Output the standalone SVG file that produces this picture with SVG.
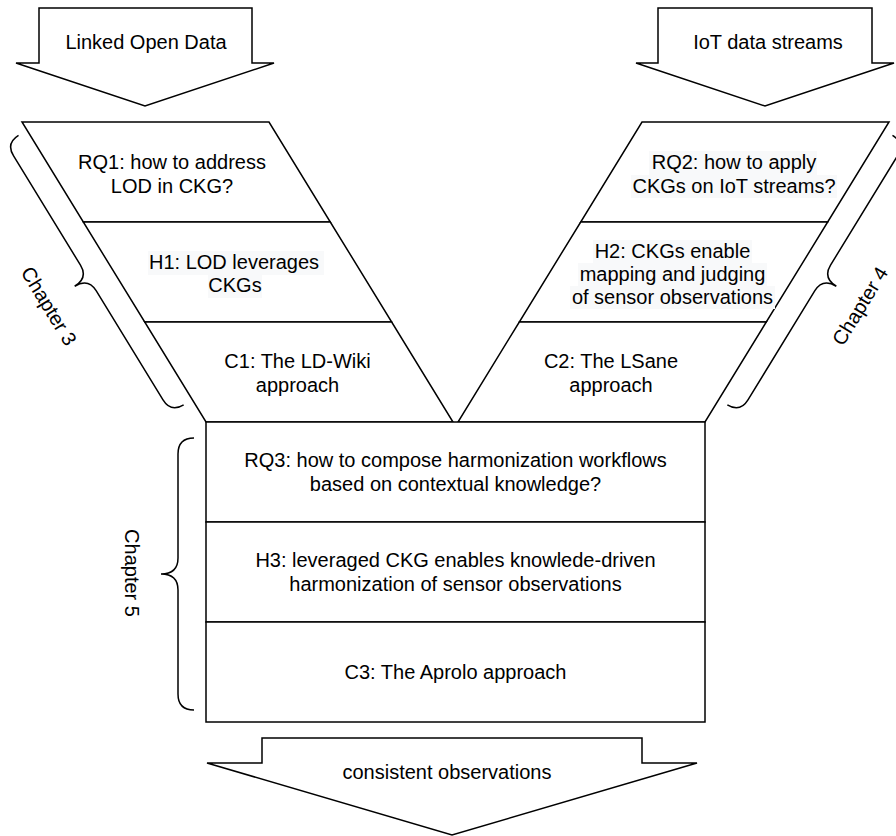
<svg xmlns="http://www.w3.org/2000/svg" width="896" height="836" viewBox="0 0 896 836">
  <style>
    .shape { fill: #ffffff; stroke: #000000; stroke-width: 1.5; stroke-linejoin: miter; }
    .brace { fill: none; stroke: #000000; stroke-width: 1.5; }
    .lbl { font-family: "Liberation Sans", Arial, Helvetica, sans-serif; font-size: 20px; fill: #000000; text-anchor: middle; }
    .hl { fill: #f8f9fa; stroke: none; }
  </style>
  <defs>
    <!-- curly bracket, tip pointing to -x, centred on the origin -->
    <path id="diagBrace" d="M15,-158 Q0,-158 0,-143 L0,-15 Q0,0 -16,0 Q0,0 0,15 L0,143 Q0,158 15,158"/>
  </defs>
  <rect width="896" height="836" fill="#ffffff"/>

  <!-- input arrows -->
  <g id="lod-input">
    <path class="shape" d="M39,8 L252,8 L252,63 L274,63 L145,106 L16,63 L39,63 Z"/>
    <text class="lbl" x="146" y="49">Linked Open Data</text>
  </g>
  <g id="iot-input">
    <path class="shape" d="M658,8 L872,8 L872,63 L894,63 L765,106 L636,63 L658,63 Z"/>
    <text class="lbl" x="768" y="49">IoT data streams</text>
  </g>

  <!-- left branch: LOD -->
  <g id="rq1">
    <polygon class="shape" points="22,122 269,122 330.3,222 83.3,222"/>
    <text class="lbl" x="172" y="169">RQ1: how to address</text>
    <text class="lbl" x="172" y="193">LOD in CKG?</text>
  </g>
  <g id="h1">
    <polygon class="shape" points="83.3,222 330.3,222 391.7,322 144.7,322"/>
    <rect class="hl" x="148" y="251" width="176" height="24"/>
    <rect class="hl" x="208" y="275" width="54" height="23"/>
    <text class="lbl" x="234" y="269">H1: LOD leverages</text>
    <text class="lbl" x="235" y="292">CKGs</text>
  </g>
  <g id="c1">
    <polygon class="shape" points="144.7,322 391.7,322 453,422 206,422"/>
    <text class="lbl" x="297.5" y="368">C1: The LD-Wiki</text>
    <text class="lbl" x="297.5" y="392">approach</text>
  </g>

  <!-- right branch: IoT -->
  <g id="rq2">
    <polygon class="shape" points="642,122 889,122 827.7,222 580.7,222"/>
    <rect class="hl" x="649" y="151" width="168" height="24"/>
    <rect class="hl" x="631" y="175" width="206" height="23"/>
    <text class="lbl" x="734" y="169">RQ2: how to apply</text>
    <text class="lbl" x="734" y="193">CKGs on IoT streams?</text>
  </g>
  <g id="h2">
    <polygon class="shape" points="580.7,222 827.7,222 766.3,322 519.3,322"/>
    <rect class="hl" x="593" y="240" width="159" height="23"/>
    <rect class="hl" x="578" y="263" width="189" height="23"/>
    <rect class="hl" x="570" y="286" width="205" height="23"/>
    <text class="lbl" x="672.5" y="258">H2: CKGs enable</text>
    <text class="lbl" x="672.5" y="281">mapping and judging</text>
    <text class="lbl" x="672.5" y="304">of sensor observations</text>
  </g>
  <g id="c2">
    <polygon class="shape" points="519.3,322 766.3,322 705,422 458,422"/>
    <text class="lbl" x="611" y="368">C2: The LSane</text>
    <text class="lbl" x="611" y="392">approach</text>
  </g>

  <!-- merged stage -->
  <g id="rq3">
    <rect class="shape" x="206" y="422" width="499" height="100"/>
    <text class="lbl" x="455.5" y="467">RQ3: how to compose harmonization workflows</text>
    <text class="lbl" x="455.5" y="491">based on contextual knowledge?</text>
  </g>
  <g id="h3">
    <rect class="shape" x="206" y="522" width="499" height="100"/>
    <text class="lbl" x="455.5" y="567">H3: leveraged CKG enables knowlede-driven</text>
    <text class="lbl" x="455.5" y="591">harmonization of sensor observations</text>
  </g>
  <g id="c3">
    <rect class="shape" x="206" y="622" width="499" height="100"/>
    <text class="lbl" x="455.5" y="679">C3: The Aprolo approach</text>
  </g>

  <!-- output arrow -->
  <g id="output">
    <path class="shape" d="M262,738 L642,738 L642,763 L697,763 L452,835 L207,763 L262,763 Z"/>
    <text class="lbl" x="447" y="779">consistent observations</text>
  </g>

  <!-- chapter brackets -->
  <g id="connectors">
    <g id="chapter3">
      <use href="#diagBrace" class="brace" transform="translate(88.3,277.9) rotate(-31.5)"/>
      <text class="lbl" transform="translate(49,306) rotate(58.7)" y="7">Chapter 3</text>
    </g>
    <g id="chapter4">
      <use href="#diagBrace" class="brace" transform="translate(822.7,277.9) rotate(31.5) scale(-1,1)"/>
      <text class="lbl" transform="translate(860,306) rotate(-58.5)" y="7">Chapter 4</text>
    </g>
    <g id="chapter5">
      <path class="brace" d="M194,438 Q178,438 178,454 L178,558 Q178,574 161,574 Q178,574 178,590 L178,694 Q178,710 194,710"/>
      <text class="lbl" transform="translate(132,573) rotate(90)" y="7">Chapter 5</text>
    </g>
  </g>
</svg>
